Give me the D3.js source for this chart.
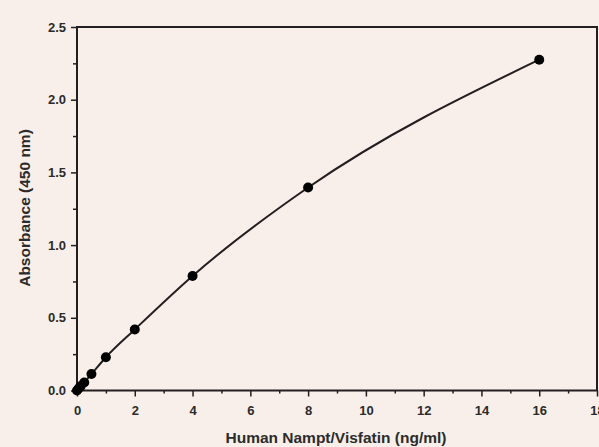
<!DOCTYPE html>
<html>
<head>
<meta charset="utf-8">
<script src="https://cdn.jsdelivr.net/npm/d3@7"></script>
<style>
  body { margin: 0; background: #f9efea; }
  svg { display: block; font-family: "Liberation Sans", Arial, sans-serif; }
  .tick text { font-weight: bold; fill: #2b2b2b; }
</style>
</head>
<body>
<svg id="chart" width="599" height="447"></svg>
<script>
// concentration (ng/ml) and absorbance
var concentrations = [0, 0.0625, 0.125, 0.25, 0.5, 1, 2, 4, 8, 16];
var absorbances = [0.0, 0.015, 0.03, 0.055, 0.113, 0.229, 0.42, 0.788, 1.396, 2.275];
var xTickValues = [0, 2, 4, 6, 8, 10, 12, 14, 16, 18];
var yTickValues = [0, 0.5, 1.0, 1.5, 2.0, 2.5];

var svg = d3.select("#chart");
var plotLeft = 77, plotRight = 597, plotTop = 27, plotBottom = 390.5;
var ink = "#231f20";

var x = d3.scaleLinear().domain([0, 18]).range([plotLeft, plotRight]);
var y = d3.scaleLinear().domain([0, 2.5]).range([plotBottom, plotTop]);

svg.append("rect").attr("width", 599).attr("height", 447).attr("fill", "#f9efea");

// minor ticks
var xMinor = d3.axisBottom(x).tickValues(d3.range(1, 18, 2)).tickSize(3).tickFormat("");
svg.append("g").attr("transform", "translate(0," + plotBottom + ")").call(xMinor)
  .call(g => g.select(".domain").remove())
  .selectAll("line").attr("stroke", ink).attr("stroke-width", 1.5);

var yMinor = d3.axisLeft(y).tickValues([0.25, 0.75, 1.25, 1.75, 2.25]).tickSize(4).tickFormat("");
svg.append("g").attr("transform", "translate(" + plotLeft + ",0)").call(yMinor)
  .call(g => g.select(".domain").remove())
  .selectAll("line").attr("stroke", ink).attr("stroke-width", 1.5);

// major axes
var xAxis = d3.axisBottom(x).tickValues(xTickValues).tickSize(6).tickPadding(9).tickFormat(d3.format("d"));
svg.append("g").attr("class", "x axis").attr("transform", "translate(0," + plotBottom + ")").call(xAxis)
  .call(g => g.select(".domain").remove())
  .call(g => g.selectAll("line").attr("stroke", ink).attr("stroke-width", 1.5))
  .selectAll("text").style("font-size", "13px");

var yAxis = d3.axisLeft(y).tickValues(yTickValues).tickSize(6).tickPadding(5).tickFormat(d3.format(".1f"));
svg.append("g").attr("class", "y axis").attr("transform", "translate(" + plotLeft + ",0)").call(yAxis)
  .call(g => g.select(".domain").remove())
  .call(g => g.selectAll("line").attr("stroke", ink).attr("stroke-width", 1.5))
  .selectAll("text").style("font-size", "13px");

// frame
svg.append("rect")
  .attr("x", plotLeft).attr("y", plotTop)
  .attr("width", plotRight - plotLeft).attr("height", plotBottom - plotTop)
  .attr("fill", "none").attr("stroke", ink).attr("stroke-width", 2);

// fitted curve
var points = concentrations.map((c, i) => ({c: c, a: absorbances[i]}));
var line = d3.line().x(d => x(d.c)).y(d => y(d.a)).curve(d3.curveMonotoneX);
svg.append("path").datum(points)
  .attr("d", line).attr("fill", "none").attr("stroke", ink).attr("stroke-width", 2);

svg.selectAll(".dot").data(points).enter().append("circle")
  .attr("class", "dot")
  .attr("cx", d => x(d.c)).attr("cy", d => y(d.a))
  .attr("r", 5).attr("fill", "#000");

// titles
svg.append("text")
  .attr("x", 336).attr("y", 443)
  .attr("text-anchor", "middle")
  .style("font-size", "15.5px").style("font-weight", "bold").attr("fill", "#2b2b2b")
  .text("Human Nampt/Visfatin (ng/ml)");

svg.append("text")
  .attr("transform", "translate(30,208) rotate(-90)")
  .attr("text-anchor", "middle")
  .style("font-size", "15.5px").style("font-weight", "bold").attr("fill", "#2b2b2b")
  .text("Absorbance (450 nm)");
</script>
</body>
</html>
